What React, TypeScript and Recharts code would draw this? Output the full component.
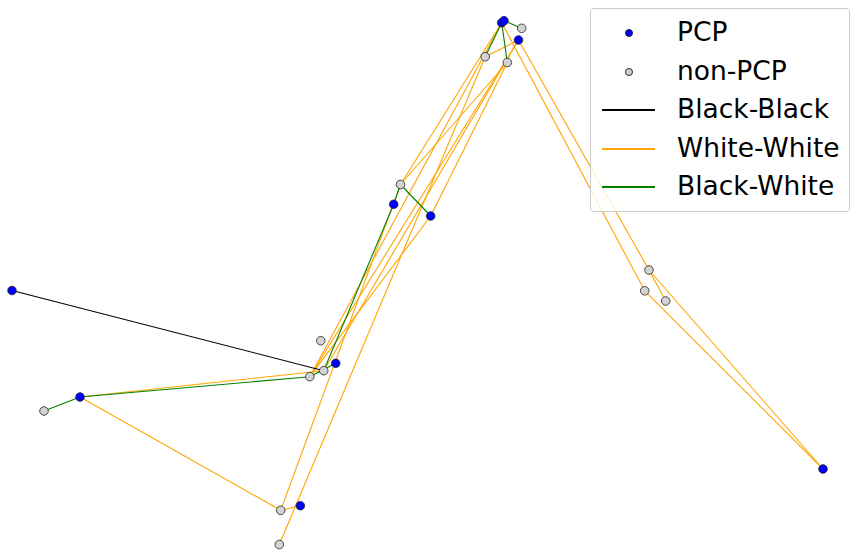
import { ScatterChart, Scatter, XAxis, YAxis } from 'recharts'

// node ids and positions (plot units = the layout coordinates)
const nodeIds = ['A1', 'A2', 'B', 'C', 'D', 'E', 'F', 'G', 'H', 'I', 'J', 'K', 'L', 'M', 'N', 'O', 'P', 'Q', 'R', 'S', 'T', 'U', 'V']
const nodeX = [501.7, 504, 521.7, 518.5, 485.2, 507.3, 400.5, 393.7, 430.7, 320.8, 335.7, 323.7, 309.8, 12, 80, 44, 280.7, 300.3, 279.3, 649, 644.7, 665.7, 823]
const nodeY = [22.7, 20.7, 28.3, 40, 56.7, 62.5, 184.5, 204.3, 216, 340.7, 363.3, 370.7, 376.7, 290.5, 397, 411, 510.3, 505.7, 544.5, 270, 290.8, 301, 469]
const pcpIds = ['A1', 'A2', 'C', 'G', 'H', 'J', 'M', 'N', 'Q', 'V']

const blackBlack = [['M', 'K']]
const whiteWhite = [
    ['N', 'P'], ['N', 'K'], ['P', 'Q'], ['P', 'F'], ['R', 'D'], ['D', 'C'],
    ['A1', 'F'], ['E', 'F'], ['C', 'L'], ['A1', 'L'], ['H', 'L'], ['E', 'H'],
    ['C', 'K'], ['A1', 'T'], ['C', 'S'], ['S', 'U'], ['S', 'V'], ['T', 'V'],
]
const blackWhite = [
    ['O', 'N'], ['N', 'L'], ['J', 'L'], ['K', 'G'], ['G', 'F'], ['F', 'H'],
    ['A1', 'D'], ['A1', 'E'], ['A2', 'B'], ['A1', 'A2'],
]

const legendRows = ['PCP', 'non-PCP', 'Black-Black', 'White-White', 'Black-White']
const lineColors = ['#000000', '#ffa500', '#008000']

const pos = (id: string) => {
    const i = nodeIds.indexOf(id)
    return { x: nodeX[i], y: nodeY[i] }
}

const pcpNodes = nodeIds.filter(id => pcpIds.includes(id)).map(pos)
const otherNodes = nodeIds.filter(id => !pcpIds.includes(id)).map(pos)

const edgeGroups = [
    { edges: whiteWhite, color: lineColors[1] },
    { edges: blackWhite, color: lineColors[2] },
    { edges: blackBlack, color: lineColors[0] },
]

const Dot = (fill: string) => (props: any) => (
    <circle cx={props.cx} cy={props.cy} r={4.3} fill={fill} stroke="#222" strokeWidth={0.8} />
)
const NoDot = () => <g />

export default function App() {
    return (
        <div style={{ position: 'absolute', left: 0, top: 0, width: 851, height: 550, fontFamily: 'DejaVu Sans' }}>
            <ScatterChart width={851} height={550} margin={{ top: 0, right: 0, bottom: 0, left: 0 }}>
                <XAxis type="number" dataKey="x" domain={[0, 851]} hide />
                <YAxis type="number" dataKey="y" domain={[0, 550]} reversed hide />
                {edgeGroups.map(g =>
                    g.edges.map(([a, b], i) => (
                        <Scatter
                            key={g.color + i}
                            data={[pos(a), pos(b)]}
                            line={{ stroke: g.color, strokeWidth: 1.1 }}
                            shape={NoDot}
                            isAnimationActive={false}
                            legendType="none"
                        />
                    ))
                )}
                <Scatter data={otherNodes} shape={Dot('#d3d3d3')} isAnimationActive={false} />
                <Scatter data={pcpNodes} shape={Dot('#0000ff')} isAnimationActive={false} />
            </ScatterChart>

            <div
                style={{
                    position: 'absolute',
                    left: 590,
                    top: 8,
                    width: 260,
                    height: 204,
                    background: 'rgba(255,255,255,0.8)',
                    border: '1.5px solid #cccccc',
                    borderRadius: 4,
                    boxSizing: 'border-box',
                }}
            >
                {legendRows.map((label, i) => (
                    <div key={label} style={{ position: 'absolute', left: 0, top: Math.round(5 + i * 38.6), height: 38, width: 258 }}>
                        {i < 2 && (
                            <div
                                style={{
                                    position: 'absolute',
                                    left: 34,
                                    top: 15,
                                    width: 8,
                                    height: 8,
                                    borderRadius: '50%',
                                    background: i === 0 ? '#0000ff' : '#d3d3d3',
                                    border: '0.8px solid #222',
                                    boxSizing: 'border-box',
                                }}
                            />
                        )}
                        {i >= 2 && (
                            <div style={{ position: 'absolute', left: 11, top: 18, width: 53, height: 1.5, background: lineColors[i - 2] }} />
                        )}
                        <span style={{ position: 'absolute', left: 86, top: 2, fontSize: 26.5, lineHeight: '32px', color: '#000' }}>{label}</span>
                    </div>
                ))}
            </div>
        </div>
    )
}
